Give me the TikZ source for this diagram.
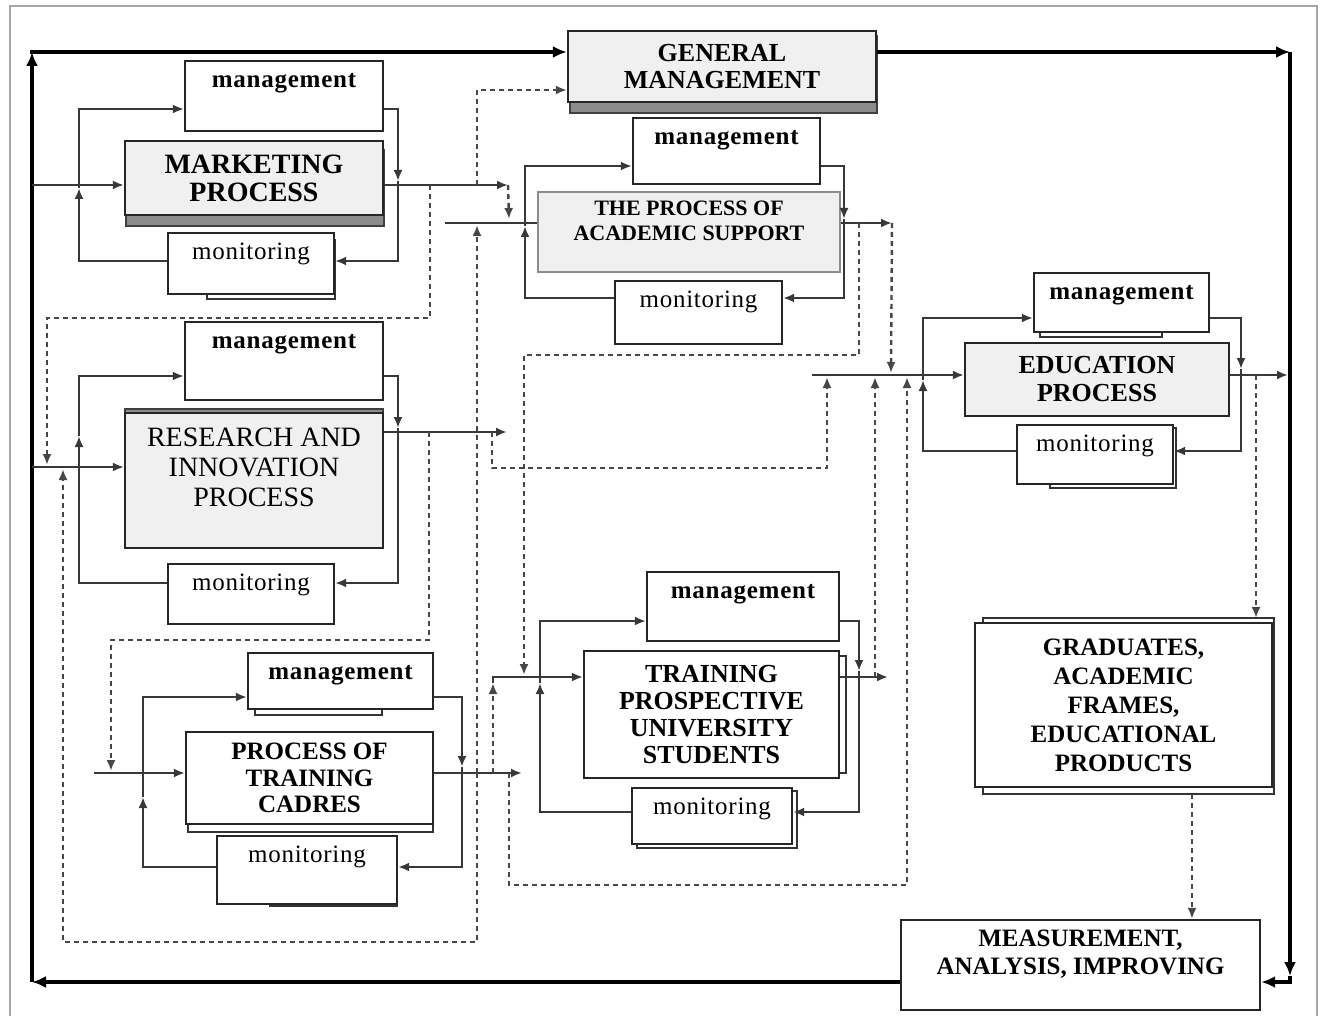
\documentclass[tikz,border=0pt]{standalone}
\usepackage{fontspec}
\setmainfont{Liberation Serif}
\newfontfamily\spfont[LetterSpace=3]{Liberation Serif}
\usetikzlibrary{arrows.meta}
\tikzset{
  thk/.style={line width=4.5pt, black, line join=miter},
  bigarr/.style={-{Latex[length=14pt,width=12pt]}},
  ln/.style={line width=2.2pt, black!78, line join=miter},
  arr/.style={-{Latex[length=11pt,width=9pt]}},
  dsh/.style={line width=2.4pt, black!72, dash pattern=on 5pt off 4pt},
  procbox/.style={draw=black!85, line width=2.2pt, fill=black!6, align=center, inner sep=0pt},
  whbox/.style={draw=black!85, line width=2.2pt, fill=white, align=center, inner sep=0pt},
  mgbox/.style={draw=black!85, line width=2.2pt, fill=white, inner sep=0pt, anchor=north, text height=26pt, font=\spfont\bfseries\fontsize{25}{27}\selectfont},
  monbox/.style={mgbox, font=\spfont\fontsize{25}{27}\selectfont},
  shad/.style={draw=black!75, line width=1.5pt, fill=black!45},
  shadw/.style={draw=black!80, line width=1.5pt, fill=white},
}
\begin{document}
\begin{tikzpicture}[x=1pt,y=-1pt]
\useasboundingbox (0,0) rectangle (1325,1016);
\fill[white] (0,0) rectangle (1325,1016);
\draw[black!35, line width=2.5pt] (10,1030) -- (10,6) -- (1317,6) -- (1317,1030);

% shadows
\draw[shad] (570,36) rectangle (877,113);
\draw[shad] (126,150) rectangle (384,226);
\draw[shad] (125,409) rectangle (383,460);
\draw[shadw] (207,240) rectangle (335,299);
\draw[shadw] (255,660) rectangle (382,715);
\draw[shadw] (188,740) rectangle (433,832);
\draw[shadw] (270,840) rectangle (397,906);
\draw[shadw] (590,656) rectangle (846,773);
\draw[shadw] (637,791) rectangle (797,848);
\draw[shadw] (1040,280) rectangle (1162,337);
\draw[shadw] (1050,428) rectangle (1176,488);
\draw[shadw] (983,618) rectangle (1274,794);

% main boxes
\node[procbox, minimum width=308pt, minimum height=71pt, font=\bfseries\fontsize{26}{27}\selectfont] (gm) at (722,66.5) {GENERAL\\MANAGEMENT};
\node[procbox, minimum width=258pt, minimum height=74pt, font=\bfseries\fontsize{28}{28}\selectfont] (mkt) at (254,178) {MARKETING\\PROCESS};
\node[procbox, draw=black!45, minimum width=302pt, minimum height=80pt,
  label={[align=center, font=\bfseries\fontsize{22}{25}\selectfont, yshift=11pt]center:{THE PROCESS OF\\ACADEMIC SUPPORT}}] (acad) at (689,232) {};
\node[procbox, minimum width=258pt, minimum height=135pt,
  label={[align=center, font=\fontsize{28}{30}\selectfont, yshift=13.5pt]center:{RESEARCH AND\\INNOVATION\\PROCESS}}] (res) at (254,480.5) {};
\node[whbox, minimum width=247pt, minimum height=92pt, font=\bfseries\fontsize{25}{26.5}\selectfont] (cad) at (309.5,778) {PROCESS OF\\TRAINING\\CADRES};
\node[whbox, minimum width=255pt, minimum height=127pt, font=\bfseries\fontsize{26}{26.7}\selectfont] (tpus) at (711.5,714.5) {TRAINING\\PROSPECTIVE\\UNIVERSITY\\STUDENTS};
\node[procbox, minimum width=264pt, minimum height=73pt, font=\bfseries\fontsize{26}{28}\selectfont] (edu) at (1097,379.5) {EDUCATION\\PROCESS};
\node[whbox, minimum width=297pt, minimum height=164pt, font=\bfseries\fontsize{25}{29}\selectfont] (grad) at (1123.5,705) {GRADUATES,\\ACADEMIC\\FRAMES,\\EDUCATIONAL\\PRODUCTS};
\node[whbox, minimum width=359pt, minimum height=90pt,
  label={[align=center, font=\bfseries\fontsize{25}{28}\selectfont, yshift=11pt]center:{MEASUREMENT,\\ANALYSIS, IMPROVING}}] (meas) at (1080.5,965) {};

% management / monitoring boxes
\node[mgbox, minimum width=198pt, text depth=44pt] (m1) at (284,60) {management};
\node[monbox, minimum width=166pt, text depth=35pt] (mon1) at (251,232) {monitoring};
\node[mgbox, minimum width=187pt, text depth=40pt] (m2) at (726.5,117) {management};
\node[monbox, minimum width=167pt, text depth=37pt] (mon2) at (698.5,280) {monitoring};
\node[mgbox, minimum width=198pt, text depth=52pt] (m3) at (284,321) {management};
\node[monbox, minimum width=166pt, text depth=34pt] (mon3) at (251,563) {monitoring};
\node[mgbox, minimum width=185pt, text depth=30pt] (m4) at (340.5,652) {management};
\node[monbox, minimum width=180pt, text depth=42pt] (mon4) at (307,835) {monitoring};
\node[mgbox, minimum width=192pt, text depth=43pt] (m5) at (743,571) {management};
\node[monbox, minimum width=160pt, text depth=30pt] (mon5) at (712,787) {monitoring};
\node[mgbox, minimum width=175pt, text depth=33pt] (m6) at (1121.5,272) {management};
\node[monbox, minimum width=156pt, text depth=33pt] (mon6) at (1095,424) {monitoring};

% coordinates
\coordinate (c1) at (32,52);
\coordinate (c2) at (1290,52);
\coordinate (c3) at (1290,982);
\coordinate (c3a) at (1290,976);
\coordinate (c4) at (32,982);
\coordinate (mo) at (508,185);
\coordinate (ai) at (445,223);
\coordinate (ao) at (892,223);
\coordinate (ro) at (507,432);
\coordinate (ci) at (94,773);
\coordinate (co) at (522,773);
\coordinate (ti) at (493,683);
\coordinate (to) at (888,677);
\coordinate (ei) at (812,375);
\coordinate (eo) at (1288,375);

% thick outer loop
\draw[thk,bigarr] (meas.west |- c4) -- (c4);
\draw[thk,bigarr] (c4) -- (c1);
\draw[thk,bigarr,line cap=rect] (c1) -- (gm.west |- c1);
\draw[thk,bigarr] (gm.east |- c2) -- (c2);
\draw[thk,bigarr] (c2) -- (c3a);
\draw[thk,bigarr] (c3a) -- (c3) -- (meas.east |- c3);

% marketing
\draw[ln,arr] (c1 |- 0,185) -- (mkt.west |- 0,185);
\draw[ln,arr] (mkt.east |- mo) -- (mo);
\draw[ln,arr] (mon1.west |- 0,261) -- (79,261) -- (79,188);
\draw[ln,arr] (79,188) -- (79,109) -- (m1.west |- 0,109);
\draw[ln,arr] (m1.east |- 0,109) -- (398,109) -- (398,181);
\draw[ln,arr] (398,181) -- (398,261) -- (mon1.east |- 0,261);

% academic support
\draw[ln] (ai) -- (acad.west |- ai);
\draw[ln,arr] (acad.east |- ao) -- (ao);
\draw[ln,arr] (mon2.west |- 0,298) -- (525,298) -- (525,226);
\draw[ln,arr] (525,226) -- (525,166) -- (m2.west |- 0,166);
\draw[ln,arr] (m2.east |- 0,166) -- (844,166) -- (844,219);
\draw[ln,arr] (844,219) -- (844,298) -- (mon2.east |- 0,298);

% research
\draw[ln,arr] (c1 |- 0,467) -- (res.west |- 0,467);
\draw[ln,arr] (res.east |- ro) -- (ro);
\draw[ln,arr] (mon3.west |- 0,583) -- (79,583) -- (79,436);
\draw[ln,arr] (79,436) -- (79,376) -- (m3.west |- 0,376);
\draw[ln,arr] (m3.east |- 0,376) -- (398,376) -- (398,428);
\draw[ln,arr] (398,428) -- (398,583) -- (mon3.east |- 0,583);

% training cadres
\draw[ln,arr] (ci) -- (cad.west |- ci);
\draw[ln,arr] (cad.east |- co) -- (co);
\draw[ln,arr] (mon4.west |- 0,867) -- (143,867) -- (143,797);
\draw[ln,arr] (143,797) -- (143,697) -- (m4.west |- 0,697);
\draw[ln,arr] (m4.east |- 0,697) -- (462,697) -- (462,767);
\draw[ln,arr] (462,767) -- (462,867) -- (mon4.east |- 0,867);

% training prospective students
\draw[ln,arr] (ti) -- (ti |- 0,677) -- (tpus.west |- 0,677);
\draw[ln,arr] (tpus.east |- to) -- (to);
\draw[ln,arr] (mon5.west |- 0,812) -- (540,812) -- (540,683);
\draw[ln,arr] (540,683) -- (540,621) -- (m5.west |- 0,621);
\draw[ln,arr] (m5.east |- 0,621) -- (859,621) -- (859,671);
\draw[ln,arr] (859,671) -- (859,812) -- (mon5.east |- 0,812);

% education
\draw[ln,arr] (ei) -- (edu.west |- ei);
\draw[ln,arr] (edu.east |- ei) -- (eo);
\draw[ln,arr] (mon6.west |- 0,451) -- (923,451) -- (923,380);
\draw[ln,arr] (923,380) -- (923,318) -- (m6.west |- 0,318);
\draw[ln,arr] (m6.east |- 0,318) -- (1241,318) -- (1241,369);
\draw[ln,arr] (1241,369) -- (1241,451) -- (mon6.east |- 0,451);

% dashed links
\draw[dsh,arr] (mo) -- (509,219);
\draw[dsh,arr] (430,185) -- (430,318) -- (47,318) -- (47,465);
\draw[dsh,arr] (477,185) -- (477,90) -- (gm.west |- 0,90);
\draw[dsh,arr] (477,773) -- (477,225);
\draw[dsh,arr] (477,773) -- (477,942) -- (63,942) -- (63,469);
\draw[dsh,arr] (429,432) -- (429,640) -- (111,640) -- (111,771);
\draw[dsh,arr] (492,432) -- (492,468) -- (827,468) -- (827,377);
\draw[dsh,arr] (859,223) -- (859,355) -- (524,355) -- (524,675);
\draw[dsh,arr] (ao) -- (891,373);
\draw[dsh,arr] (509,773) -- (509,885) -- (907,885) -- (907,377);
\draw[dsh,arr] (875,677) -- (875,377);
\draw[dsh,arr] (493,773) -- (ti);
\draw[dsh,arr] (1256,375) -- (1256,618);
\draw[dsh,arr] (1192,794) -- (meas.north -| 1192,0);
\end{tikzpicture}
\end{document}
